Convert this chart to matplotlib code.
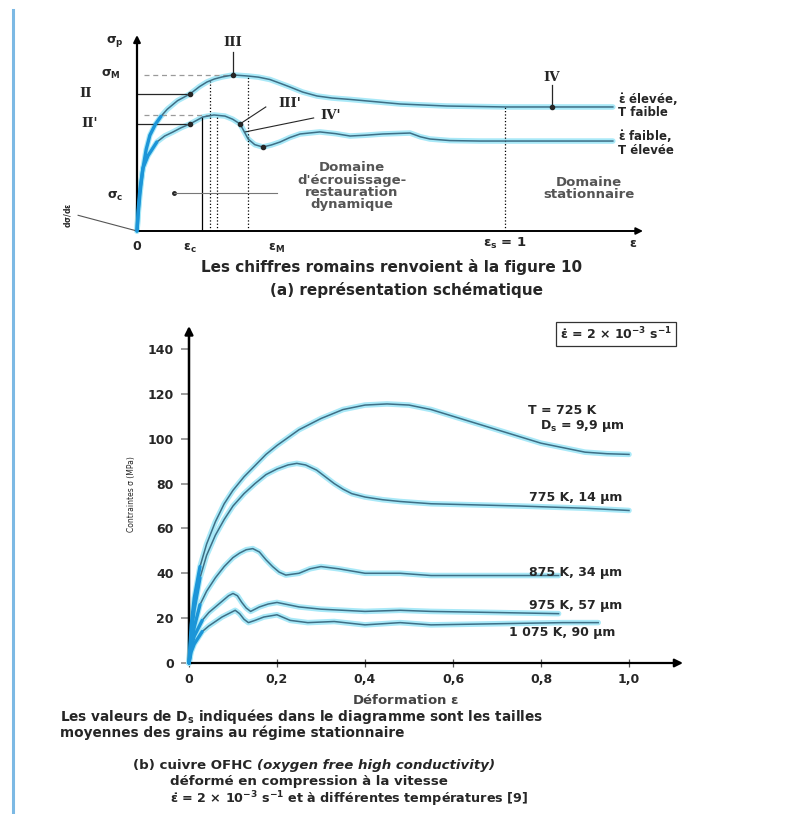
import numpy as np
import matplotlib.pyplot as plt
from matplotlib.lines import Line2D

plt.rcParams["font.family"] = ["DejaVu Sans"]
plt.rcParams["font.weight"] = "bold"
plt.rcParams["mathtext.default"] = "regular"

W, H = 795, 814
INK = "#262626"
GLOW = "#a9e9f8"
LINE = "#3e6f86"
BLUE = "#1b95d8"

# (a) schematic: strain in units of eps_s, stress in units of sigma_M
EPS_HIGH = [0, 0.003, 0.008, 0.016, 0.025, 0.035, 0.05, 0.065, 0.082, 0.11,
            0.144, 0.17, 0.19, 0.21, 0.231, 0.261, 0.302, 0.33, 0.361, 0.39,
            0.416, 0.45, 0.489, 0.53, 0.579, 0.65, 0.715, 0.842, 1.005, 1.293]
SIG_HIGH = [0, 0.13, 0.27, 0.395, 0.52, 0.61, 0.68, 0.73, 0.775, 0.83,
            0.873, 0.92, 0.949, 0.968, 0.981, 0.994, 0.987, 0.98, 0.965, 0.94,
            0.917, 0.885, 0.86, 0.847, 0.838, 0.823, 0.809, 0.796, 0.79, 0.79]
EPS_LOW = [0, 0.004, 0.008, 0.016, 0.03, 0.054, 0.075, 0.098, 0.12, 0.144,
           0.179, 0.209, 0.239, 0.26, 0.28, 0.292, 0.302, 0.32, 0.342, 0.365,
           0.389, 0.415, 0.443, 0.497, 0.54, 0.579, 0.62, 0.668, 0.742, 0.77,
           0.796, 0.85, 0.932, 1.293]
SIG_LOW = [0, 0.13, 0.236, 0.4, 0.48, 0.567, 0.605, 0.631, 0.658, 0.682,
           0.726, 0.739, 0.732, 0.712, 0.682, 0.63, 0.586, 0.55, 0.535, 0.548,
           0.567, 0.595, 0.618, 0.631, 0.62, 0.605, 0.61, 0.618, 0.624, 0.6,
           0.586, 0.576, 0.573, 0.573]

# (b) OFHC copper, stress (MPa) vs strain
EPS_725 = [0, 0.005, 0.012, 0.025, 0.04, 0.06, 0.08, 0.1, 0.125, 0.15, 0.175,
           0.2, 0.25, 0.3, 0.35, 0.4, 0.45, 0.5, 0.55, 0.6, 0.65, 0.7, 0.75,
           0.8, 0.85, 0.9, 0.95, 1.0]
SIG_725 = [0, 17, 29, 43, 53, 63, 71, 77, 83, 88, 93, 97, 104, 109, 113, 115,
           115.5, 115, 113, 110, 107, 104, 101, 98, 96, 94, 93.3, 93]
EPS_775 = [0, 0.005, 0.012, 0.025, 0.04, 0.06, 0.08, 0.1, 0.125, 0.15, 0.175,
           0.2, 0.225, 0.245, 0.265, 0.29, 0.31, 0.33, 0.35, 0.37, 0.4, 0.44,
           0.48, 0.55, 0.65, 0.75, 0.9, 1.0]
SIG_775 = [0, 13, 24, 38, 48, 57, 64, 70, 75.5, 80, 84, 86.5, 88.3, 89, 88.3,
           86, 83, 80, 77.5, 75.5, 74, 72.8, 72, 71, 70.5, 70, 69, 68]
EPS_875 = [0, 0.005, 0.012, 0.025, 0.04, 0.06, 0.08, 0.1, 0.115, 0.13, 0.145,
           0.16, 0.175, 0.19, 0.205, 0.22, 0.25, 0.275, 0.3, 0.34, 0.4, 0.48,
           0.55, 0.65, 0.75, 0.84]
SIG_875 = [0, 8, 16, 26, 32, 38, 43, 47, 49, 50.5, 51, 49.5, 46, 43, 40.5,
           39.2, 40, 42, 43, 42, 40, 40, 39, 39, 39, 39]
EPS_975 = [0, 0.005, 0.012, 0.03, 0.045, 0.06, 0.075, 0.09, 0.1, 0.11, 0.12,
           0.13, 0.14, 0.15, 0.16, 0.18, 0.2, 0.225, 0.25, 0.3, 0.4, 0.48,
           0.55, 0.7, 0.84]
SIG_975 = [0, 7, 12, 19, 22.5, 25, 27.5, 30, 31, 30, 27, 24.5, 23, 24, 25,
           26.3, 27, 26, 25, 24, 23, 23.5, 23, 22.5, 22]
EPS_1075 = [0, 0.005, 0.012, 0.03, 0.045, 0.06, 0.075, 0.09, 0.105, 0.115,
            0.125, 0.135, 0.15, 0.17, 0.2, 0.23, 0.27, 0.33, 0.4, 0.48, 0.55,
            0.7, 0.85, 0.93]
SIG_1075 = [0, 5, 8.5, 14, 16.5, 18.5, 20.5, 22, 23.5, 22, 19.5, 18, 19, 20.5,
            21.5, 19, 18, 18.5, 17, 18, 17, 17.5, 18, 18]

CURVES = [(EPS_725, SIG_725), (EPS_775, SIG_775), (EPS_875, SIG_875),
          (EPS_975, SIG_975), (EPS_1075, SIG_1075)]
CURVE_LABELS = ["T = 725 K", "775 K, 14 µm", "875 K, 34 µm", "975 K, 57 µm",
                "1 075 K, 90 µm"]
XTICKS = [0, 0.2, 0.4, 0.6, 0.8, 1.0]
XTICK_LABELS = ["0", "0,2", "0,4", "0,6", "0,8", "1,0"]
YTICKS = [0, 20, 40, 60, 80, 100, 120, 140]


def glow(ax, x, y, n_blue=3):
    ax.plot(x, y, color=GLOW, lw=4.0, solid_capstyle="round",
            solid_joinstyle="round", zorder=2, clip_on=False)
    ax.plot(x, y, color=LINE, lw=1.1, solid_joinstyle="round", zorder=3,
            clip_on=False)
    ax.plot(x[:n_blue], y[:n_blue], color=BLUE, lw=2.4, zorder=4,
            solid_capstyle="round", clip_on=False)


def arrow(ax, start, end, lw=1.5, scale=12):
    ax.annotate("", xy=end, xytext=start, annotation_clip=False,
                arrowprops=dict(arrowstyle="-|>", color="black", lw=lw,
                                mutation_scale=scale, shrinkA=0, shrinkB=0))


fig = plt.figure(figsize=(W / 100, H / 100), dpi=100)
fig.add_artist(Line2D([13 / W, 13 / W], [1 - 10 / H, 1 - 812 / H],
                      color="#7cb9e4", lw=2.2))

# ---------------- (a) schematic ----------------
ax = fig.add_axes([137 / W, 1 - 231 / H, 506 / W, 196 / H])
ax.set_xlim(0, 506 / 368)
ax.set_ylim(0, 196 / 157)
ax.axis("off")
xmax, ymax = ax.get_xlim()[1], ax.get_ylim()[1]
arrow(ax, (0, 0), (xmax, 0), lw=1.4, scale=10)
arrow(ax, (0, 0), (0, ymax), lw=1.6, scale=10)

eh, sh = np.array(EPS_HIGH), np.array(SIG_HIGH)
el, sl = np.array(EPS_LOW), np.array(SIG_LOW)
glow(ax, eh, sh, n_blue=8)
glow(ax, el, sl, n_blue=6)


def on_high(e):
    return float(np.interp(e, eh, sh))


def on_low(e):
    return float(np.interp(e, el, sl))


ipk_h, ipk_l = int(np.argmax(sh)), int(np.argmax(sl))
ax.plot([0.02, eh[ipk_h]], [sh[ipk_h]] * 2, ls=(0, (4, 3)), color="#9a9a9a",
        lw=0.9)
ax.plot([0.02, el[ipk_l]], [sl[ipk_l]] * 2, ls=(0, (4, 3)), color="#9a9a9a",
        lw=0.9)

# critical strain, peak strain and steady-state markers
ax.plot([0.177, 0.177], [0, on_low(0.177)], color="black", lw=0.9)
ax.plot([0.198, 0.198], [0, on_high(0.198)], color="black", lw=0.9, ls=":")
ax.plot([0.217, 0.217], [0, on_low(0.217)], color="black", lw=0.9, ls=":")
ax.plot([0.302, 0.302], [0, on_high(0.302)], color="black", lw=0.9, ls=":")
ax.plot([1.0, 1.0], [0, on_high(1.0)], color="black", lw=0.9, ls=":")

# roman numeral markers
ax.plot([-0.1, 0.144], [on_high(0.144)] * 2, color=INK, lw=0.9)
ax.plot([-0.1, 0.144], [on_low(0.144)] * 2, color=INK, lw=0.9)
ax.plot([0.144, 0.144], [on_high(0.144), on_low(0.144)], ls="none",
        marker="o", ms=3, color=INK, zorder=5)
ax.plot([eh[ipk_h]] * 2, [sh[ipk_h], 1.14], color=INK, lw=0.9)
ax.plot([1.128, 1.128], [on_high(1.128), 0.93], color=INK, lw=0.9)
ax.plot([eh[ipk_h], 1.128], [sh[ipk_h], on_high(1.128)], ls="none",
        marker="o", ms=3, color=INK, zorder=5)
ax.plot([0.28, 0.35], [on_low(0.28), 0.79], color=INK, lw=0.8)
ax.plot([0.292, 0.48], [on_low(0.292), 0.72], color=INK, lw=0.8)
ax.plot([0.28, 0.342], [on_low(0.28), on_low(0.342)], ls="none",
        marker="o", ms=3, color=INK, zorder=5)

fs = 9.5
for txt, xy in [("II", (-0.14, on_high(0.144))),
                ("II'", (-0.13, on_low(0.144))),
                ("III", (eh[ipk_h], 1.2)),
                ("III'", (0.415, 0.81)),
                ("IV'", (0.525, 0.735)),
                ("IV", (1.128, 0.98))]:
    ax.text(*xy, txt, ha="center", va="center", fontsize=fs,
            family="DejaVu Serif", color=INK)

ax.text(-0.06, 1.21, r"$\sigma_p$", ha="center", va="center", fontsize=9,
        color=INK)
ax.text(-0.07, sh[ipk_h], r"$\sigma_M$", ha="center", va="center",
        fontsize=9, color=INK)
ax.text(-0.06, 0.22, r"$\sigma_c$", ha="center", va="center", fontsize=9,
        color=INK)
ax.plot([-0.16, 0], [0.1, 0], color="#555555", lw=0.8, clip_on=False)
ax.text(-0.19, 0.1, r"$d\sigma/d\varepsilon$", rotation=90, ha="center",
        va="center", fontsize=5.5, color=INK)

ax.text(0.0, -0.1, "0", ha="center", va="center", fontsize=9, color=INK)
ax.text(0.144, -0.11, r"$\varepsilon_c$", ha="center", va="center",
        fontsize=9, color=INK)
ax.text(0.38, -0.11, r"$\varepsilon_M$", ha="center", va="center",
        fontsize=9, color=INK)
ax.text(1.0, -0.08, r"$\varepsilon_s$ = 1", ha="center", va="center",
        fontsize=9.5, color=INK)
ax.text(1.347, -0.08, r"$\varepsilon$", ha="center", va="center",
        fontsize=9, color=INK)

ax.text(1.307, 0.8, "$\\dot{\\varepsilon}$ élevée,\nT faible", ha="left",
        va="center", fontsize=8.5, linespacing=0.85, color=INK)
ax.text(1.307, 0.56, "$\\dot{\\varepsilon}$ faible,\nT élevée", ha="left",
        va="center", fontsize=8.5, linespacing=0.85, color=INK)
ax.text(0.584, 0.285, "Domaine\nd'écrouissage-\nrestauration\ndynamique",
        ha="center", va="center", fontsize=9.5, linespacing=0.92,
        color="#555555")
ax.text(1.228, 0.27, "Domaine\nstationnaire", ha="center", va="center",
        fontsize=9.5, linespacing=0.92, color="#555555")
ax.plot([0.1], [0.245], marker="o", ms=2.5, color=INK)
ax.plot([0.1, 0.38], [0.245, 0.245], color="#777777", lw=0.8)

fig.text(392 / W, 1 - 267 / H,
         "Les chiffres romains renvoient à la figure 10", ha="center",
         va="center", fontsize=11, color=INK)
fig.text(406 / W, 1 - 290 / H, "(a) représentation schématique",
         ha="center", va="center", fontsize=11, color=INK)

# ---------------- (b) OFHC copper ----------------
bx = fig.add_axes([189 / W, 1 - 663 / H, 494 / W, 337 / H])
bx.set_xlim(0, 494 / 440)
bx.set_ylim(0, 337 / 2.243)
for side in bx.spines.values():
    side.set_visible(False)
bxmax, bymax = bx.get_xlim()[1], bx.get_ylim()[1]
arrow(bx, (0, 0), (bxmax, 0), lw=1.6, scale=12)
arrow(bx, (0, 0), (0, bymax), lw=1.8, scale=12)

for eps, sig in CURVES:
    glow(bx, np.array(eps), np.array(sig), n_blue=4)

bx.set_xticks(XTICKS)
bx.set_xticklabels(XTICK_LABELS)
bx.set_yticks(YTICKS)
bx.tick_params(axis="x", direction="inout", length=6, width=0.9,
               color="#555555", labelsize=9, pad=4, labelcolor=INK)
bx.tick_params(axis="y", direction="out", length=6, width=1.2,
               color="#8a8a8a", labelsize=9, pad=5, labelcolor=INK)
bx.set_ylabel("Contraintes σ (MPa)", fontsize=5.5, labelpad=8, color=INK)

label_pos = [(0.925, 112.5), (0.985, 74), (0.985, 40.5), (0.985, 25.5),
             (0.97, 13.5)]
for (lx, ly), text in zip(label_pos, CURVE_LABELS):
    bx.text(lx, ly, text, ha="right", va="center", fontsize=9, color=INK)
bx.text(0.99, 105.5, r"$D_s$ = 9,9 µm", ha="right", va="center",
        fontsize=9, color=INK)

bx.text(0.97, 146.5, r"$\dot{\varepsilon}$ = 2 × 10$^{-3}$ s$^{-1}$",
        ha="center", va="center", fontsize=9, color=INK,
        bbox=dict(boxstyle="square,pad=0.3", fc="white", ec="#333333",
                  lw=0.9))

fig.text(405 / W, 1 - 700 / H, r"Déformation $\varepsilon$", ha="center",
         va="center", fontsize=9.5, color="#444444")
fig.text(60 / W, 1 - 717 / H,
         "Les valeurs de $D_s$ indiquées dans le diagramme sont les tailles",
         ha="left", va="center", fontsize=9.8, color=INK)
fig.text(60 / W, 1 - 733 / H, "moyennes des grains au régime stationnaire",
         ha="left", va="center", fontsize=9.8, color=INK)
t1 = fig.text(133 / W, 1 - 766 / H, "(b) cuivre OFHC ", ha="left",
              va="center", fontsize=9.6, color=INK)
bx.annotate("(oxygen free high conductivity)", xy=(1, 0.5), xycoords=t1,
            ha="left", va="center", fontsize=9.6, style="italic", color=INK)
fig.text(170 / W, 1 - 781 / H, "déformé en compression à la vitesse",
         ha="left", va="center", fontsize=9.6, color=INK)
fig.text(170 / W, 1 - 799 / H,
         r"$\dot{\varepsilon}$ = 2 × 10$^{-3}$ s$^{-1}$ et à différentes "
         "températures [9]", ha="left", va="center", fontsize=9.2,
         color=INK)

fig.savefig("out.png", dpi=100)
